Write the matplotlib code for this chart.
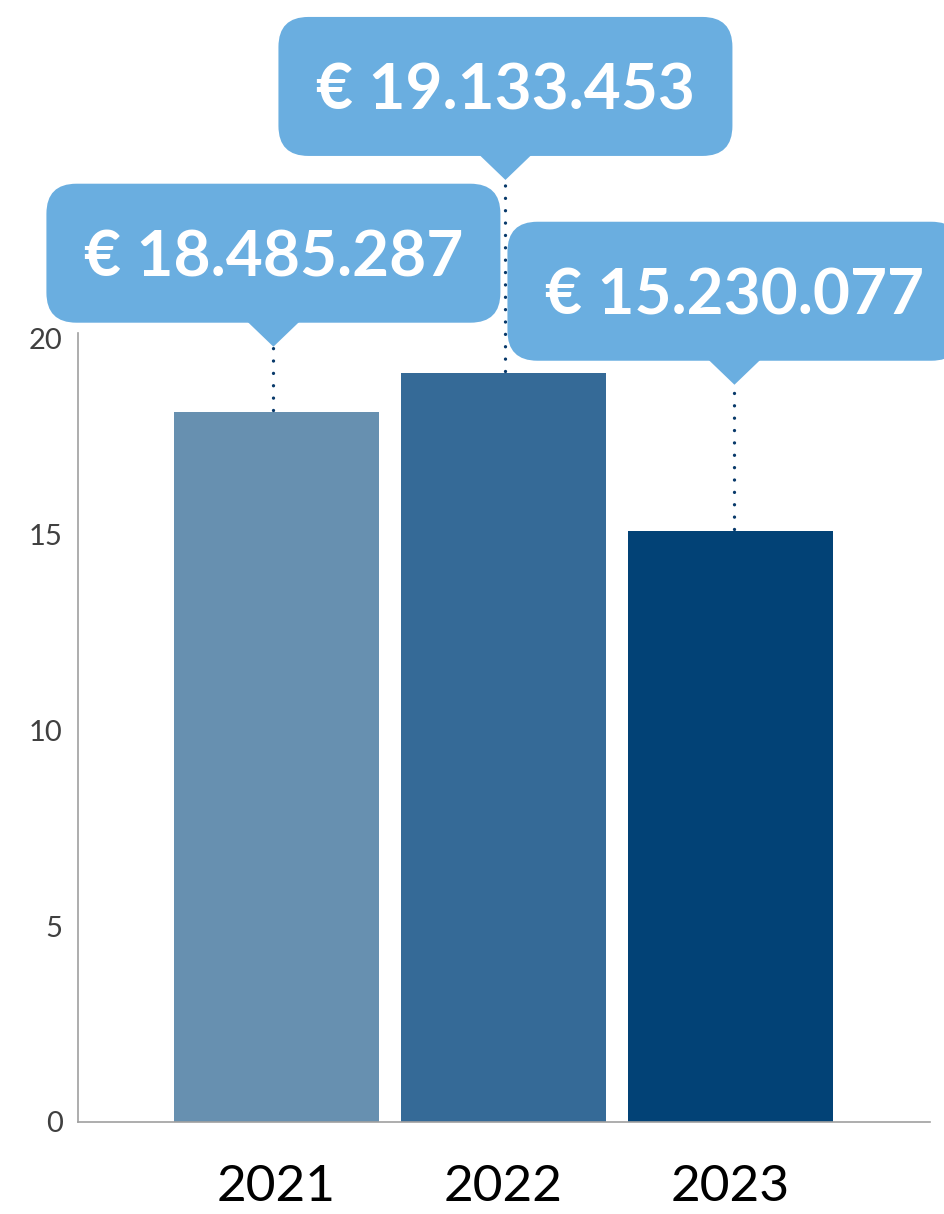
import matplotlib
matplotlib.use("Agg")
import matplotlib.pyplot as plt
from matplotlib.patches import FancyBboxPatch, Polygon
from matplotlib.lines import Line2D
from matplotlib.transforms import IdentityTransform

# data (bar heights in millions)
years = ["2021", "2022", "2023"]
values = [18.14, 19.13, 15.10]
labels = ["€ 18.485.287", "€ 19.133.453", "€ 15.230.077"]
yticks = [0, 5, 10, 15, 20]

# styles
bar_colors = ["#6790b0", "#356a97", "#024276"]
callout_color = "#6aaee0"
dot_color = "#08396a"
lift = [65, 193, 146]   # px from bar top up to the callout tip
nudge = [-3, 2, 4]      # px shift of tip/dots from bar centre

W, H, DPI = 944, 1214, 100
fig = plt.figure(figsize=(W / DPI, H / DPI), dpi=DPI)
ax = fig.add_axes([78 / W, 92 / H, 852 / W, 789 / H])

x = list(range(len(years)))
ax.bar(x, values, width=0.903, color=bar_colors, zorder=2)
ax.set_xlim(-0.874, 2.879)
ax.set_ylim(0, 20.15)

ax.set_yticks(yticks)
ax.set_yticklabels([str(t) for t in yticks])
ax.set_xticks(x)
ax.set_xticklabels(years)
ax.tick_params(axis="y", length=0, pad=11, labelsize=21, labelcolor="#404040")
ax.tick_params(axis="x", length=0, pad=30, labelsize=37, labelcolor="black")
for lab in ax.get_yticklabels():
    lab.set_fontfamily("Lato")
for lab in ax.get_xticklabels():
    lab.set_fontfamily("Lato")

for s in ["top", "right"]:
    ax.spines[s].set_visible(False)
for s in ["left", "bottom"]:
    ax.spines[s].set_color("#a0a0a0")
    ax.spines[s].set_linewidth(1.2)

# callouts, drawn in pixel space above each bar
ident = IdentityTransform()
box_w, box_h, gap, rad, tri_w = 454, 139, 24, 30, 52
for i, v in enumerate(values):
    px, py = ax.transData.transform((i, v))
    px += nudge[i]
    ty = py + lift[i]
    fig.add_artist(Line2D([px, px], [py + 2, ty], transform=ident, color=dot_color,
                          lw=2.4, linestyle=(0, (0.01, 3.7)), dash_capstyle="round", zorder=3))
    fig.add_artist(FancyBboxPatch((px - box_w / 2, ty + gap), box_w, box_h,
                                  boxstyle=f"round,pad=0,rounding_size={rad}",
                                  transform=ident, facecolor=callout_color,
                                  edgecolor="none", zorder=4))
    fig.add_artist(Polygon([(px - tri_w / 2, ty + gap + 1), (px + tri_w / 2, ty + gap + 1), (px, ty)],
                           closed=True, transform=ident, facecolor=callout_color,
                           edgecolor="none", zorder=4))
    fig.text(px, ty + gap + box_h / 2, labels[i], transform=ident, ha="center", va="center_baseline",
             color="white", fontsize=46, fontweight="bold", family="Lato", zorder=5)

fig.savefig("out.png", dpi=DPI)
